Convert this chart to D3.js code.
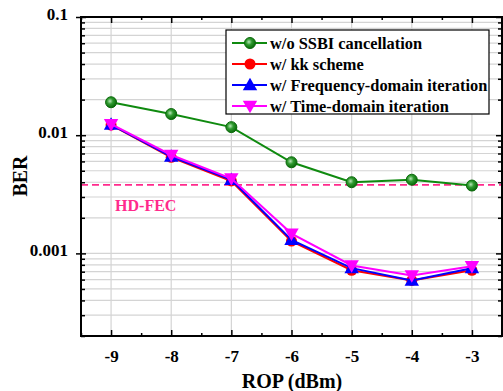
<!DOCTYPE html>
<html>
<head>
<meta charset="utf-8">
<script src="https://cdn.jsdelivr.net/npm/d3@7"></script>
<style>
  body { margin: 0; background: #fff; }
  text { font-family: "Liberation Serif", "Times New Roman", serif; font-weight: bold; }
</style>
</head>
<body>
<div id="chart"></div>
<script>
var width = 503,
    height = 391;

// data
var rop = [-9, -8, -7, -6, -5, -4, -3];
var noCancel = [0.019, 0.0151, 0.0117, 0.0059, 0.0040, 0.0042, 0.00375];
var kkScheme = [0.0122, 0.0065, 0.0041, 0.00127, 0.00072, 0.00059, 0.00072];
var freqIter = [0.0123, 0.0066, 0.0042, 0.0013, 0.00075, 0.00059, 0.00075];
var timeIter = [0.0124, 0.0068, 0.0043, 0.00147, 0.00079, 0.00065, 0.00078];
var seriesNames = ["w/o SSBI cancellation", "w/ kk scheme", "w/ Frequency-domain iteration", "w/ Time-domain iteration"];
var hdFec = 0.0038;
var xTicks = [-9, -8, -7, -6, -5, -4, -3];
var yTicks = [0.1, 0.01, 0.001];

var margin = {left: 81, top: 17, right: 1, bottom: 55};
var pw = width - margin.left - margin.right,
    ph = height - margin.top - margin.bottom;

var svg = d3.select("#chart").append("svg")
    .attr("width", width)
    .attr("height", height);

var defs = svg.append("defs");
var grad = defs.append("radialGradient").attr("id", "ball")
    .attr("cx", "40%").attr("cy", "40%").attr("r", "60%");
grad.append("stop").attr("offset", "0%").attr("stop-color", "#b8e6b8");
grad.append("stop").attr("offset", "45%").attr("stop-color", "#2f9a2f");
grad.append("stop").attr("offset", "100%").attr("stop-color", "#0a6a0a");

var g = svg.append("g").attr("transform", "translate(" + margin.left + "," + margin.top + ")");

var x = d3.scaleLinear().domain([-9.5, -2.5]).range([0, pw]);
var y = d3.scaleLog().domain([0.0002, 0.1]).range([ph, 0]);

// minor log values
var minorY = [];
[0.0001, 0.001, 0.01].forEach(function(dec){
  for (var k = 2; k <= 9; k++) {
    var v = dec * k;
    if (v >= 0.0002 && v < 0.1) minorY.push(v);
  }
});

// grid
g.append("g").selectAll("line.hy")
  .data(minorY.concat(yTicks))
  .enter().append("line")
  .attr("x1", 0).attr("x2", pw)
  .attr("y1", function(d){ return y(d); })
  .attr("y2", function(d){ return y(d); })
  .attr("stroke", "#d4d4d4").attr("stroke-width", 1.2);

g.append("g").selectAll("line.vx")
  .data(xTicks)
  .enter().append("line")
  .attr("x1", function(d){ return x(d); })
  .attr("x2", function(d){ return x(d); })
  .attr("y1", 0).attr("y2", ph)
  .attr("stroke", "#d4d4d4").attr("stroke-width", 1.2);

// HD-FEC threshold
g.append("line")
  .attr("x1", 0).attr("x2", pw)
  .attr("y1", y(hdFec)).attr("y2", y(hdFec))
  .attr("stroke", "#ff2a8c").attr("stroke-width", 1.6)
  .attr("stroke-dasharray", "7,4");

g.append("text")
  .attr("x", x(-9) + 4).attr("y", y(hdFec) + 26)
  .style("font-size", "16px")
  .style("fill", "#ff2a8c")
  .text("HD-FEC");

// axes
var minorX = d3.range(-9.5, -2.4, 0.5).filter(function(d){ return d % 1 !== 0; });

var xBottom = d3.axisBottom(x).tickValues(xTicks).tickSize(-6).tickPadding(14)
  .tickFormat(function(d){ return "-" + Math.abs(d); });
g.append("g").attr("transform", "translate(0," + ph + ")").call(xBottom)
  .call(function(a){
    a.select(".domain").remove();
    a.selectAll("text").style("font-size", "17px").style("fill", "#000");
    a.selectAll("line").attr("stroke-width", 1.5);
  });
g.append("g").attr("transform", "translate(0," + ph + ")")
  .call(d3.axisBottom(x).tickValues(minorX).tickSize(-3).tickFormat(""))
  .call(function(a){ a.select(".domain").remove(); a.selectAll("line").attr("stroke-width", 1.5); });

g.append("g").call(d3.axisTop(x).tickValues(xTicks).tickSize(-6).tickFormat(""))
  .call(function(a){ a.select(".domain").remove(); a.selectAll("line").attr("stroke-width", 1.5); });
g.append("g").call(d3.axisTop(x).tickValues(minorX).tickSize(-3).tickFormat(""))
  .call(function(a){ a.select(".domain").remove(); a.selectAll("line").attr("stroke-width", 1.5); });

var yLeft = d3.axisLeft(y).tickValues(yTicks).tickSize(5).tickPadding(8)
  .tickFormat(function(d){ return d3.format("")(d); });
g.append("g").call(yLeft)
  .call(function(a){
    a.select(".domain").remove();
    a.selectAll("line").attr("x2", -5).attr("x1", 5).attr("stroke-width", 1.5);
    a.selectAll("text").attr("dy", "0.15em").style("font-size", "17px").style("fill", "#000");
  });
g.append("g").call(d3.axisLeft(y).tickValues(minorY).tickSize(-4).tickFormat(""))
  .call(function(a){ a.select(".domain").remove(); a.selectAll("line").attr("stroke-width", 1.5); });

g.append("g").attr("transform", "translate(" + pw + ",0)")
  .call(d3.axisRight(y).tickValues(yTicks).tickSize(-6).tickFormat(""))
  .call(function(a){ a.select(".domain").remove(); a.selectAll("line").attr("stroke-width", 1.5); });
g.append("g").attr("transform", "translate(" + pw + ",0)")
  .call(d3.axisRight(y).tickValues(minorY).tickSize(-4).tickFormat(""))
  .call(function(a){ a.select(".domain").remove(); a.selectAll("line").attr("stroke-width", 1.5); });

// frame
g.append("rect")
  .attr("x", 0).attr("y", 0).attr("width", pw).attr("height", ph)
  .attr("fill", "none").attr("stroke", "#000").attr("stroke-width", 2);

// axis titles
svg.append("text")
  .attr("x", 292).attr("y", 388)
  .attr("text-anchor", "middle")
  .style("font-size", "20px")
  .text("ROP (dBm)");

svg.append("text")
  .attr("transform", "translate(27,176) rotate(-90)")
  .attr("text-anchor", "middle")
  .style("font-size", "20px")
  .text("BER");

// series
var series = [
  {name: seriesNames[0], values: noCancel, color: "#0f8a0f", marker: "ball"},
  {name: seriesNames[1], values: kkScheme, color: "#ff0000", marker: "circle"},
  {name: seriesNames[2], values: freqIter, color: "#0000ff", marker: "up"},
  {name: seriesNames[3], values: timeIter, color: "#ff00ff", marker: "down"}
];

var line = d3.line()
  .x(function(d){ return x(d[0]); })
  .y(function(d){ return y(d[1]); });

function drawMarker(sel, s) {
  if (s.marker === "ball") {
    sel.append("circle").attr("r", 5.5)
      .attr("fill", "url(#ball)").attr("stroke", "#0a6a0a").attr("stroke-width", 1);
  } else if (s.marker === "circle") {
    sel.append("circle").attr("r", 5.5).attr("fill", s.color);
  } else if (s.marker === "up") {
    sel.append("path").attr("d", d3.symbol().type(d3.symbolTriangle).size(90)())
      .attr("transform", "translate(0,1)")
      .attr("fill", s.color);
  } else {
    sel.append("path").attr("d", d3.symbol().type(d3.symbolTriangle).size(90)())
      .attr("transform", "translate(0,-1) rotate(180)")
      .attr("fill", s.color);
  }
}

series.forEach(function(s){
  var pts = rop.map(function(r, i){ return [r, s.values[i]]; });
  g.append("path").datum(pts)
    .attr("d", line)
    .attr("fill", "none")
    .attr("stroke", s.color)
    .attr("stroke-width", 2);
  pts.forEach(function(p){
    var m = g.append("g").attr("transform", "translate(" + x(p[0]) + "," + y(p[1]) + ")");
    drawMarker(m, s);
  });
});

// legend
var legend = svg.append("g").attr("transform", "translate(226,30)");
legend.append("rect")
  .attr("width", 263).attr("height", 84)
  .attr("fill", "#fff").attr("stroke", "#000").attr("stroke-width", 1.2);

series.forEach(function(s, i){
  var row = legend.append("g").attr("transform", "translate(0," + (13 + i * 21) + ")");
  row.append("line")
    .attr("x1", 6).attr("x2", 41)
    .attr("stroke", s.color).attr("stroke-width", 2);
  var m = row.append("g").attr("transform", "translate(24,0)");
  drawMarker(m, s);
  row.append("text")
    .attr("x", 44).attr("y", 5.5)
    .style("font-size", "16.4px")
    .text(s.name);
});
</script>
</body>
</html>
